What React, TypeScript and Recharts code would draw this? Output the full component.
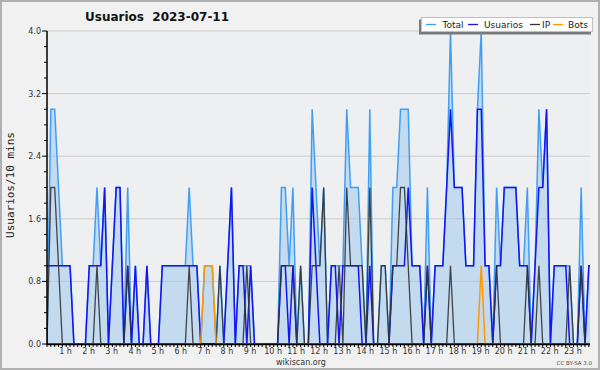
import React from 'react';
import { ComposedChart, Area, Line, XAxis, YAxis, CartesianGrid } from 'recharts';

// 10-minute slots of the day (index 0 = 00:00)
const slots: number[] = Array.from({ length: 144 }, (_, i) => i);

const total: number[] = [
  0, 3, 3, 2, 1, 1, 1, 0, 0, 0,
  0, 1, 1, 2, 1, 2, 0, 1, 2, 2,
  0, 2, 0, 1, 0, 0, 1, 0, 0, 0,
  1, 1, 1, 1, 1, 1, 1, 2, 1, 1,
  0, 1, 1, 1, 0, 1, 0, 1, 2, 0,
  1, 1, 1, 1, 0, 0, 0, 0, 0, 0,
  0, 2, 2, 1, 2, 0, 1, 0, 0, 3,
  2, 1, 2, 0, 1, 1, 1, 1, 3, 2,
  2, 2, 1, 0, 3, 0, 0, 1, 1, 0,
  2, 2, 3, 3, 3, 1, 1, 1, 0, 2,
  0, 1, 1, 1, 2, 4, 2, 2, 2, 1,
  1, 1, 3, 4, 1, 1, 0, 2, 1, 2,
  2, 2, 2, 1, 1, 2, 0, 1, 3, 2,
  3, 0, 1, 1, 1, 1, 1, 0, 0, 2,
  0, 1, 1, 1,
];

const usuarios: number[] = [
  1, 1, 1, 1, 1, 1, 1, 0, 0, 0,
  0, 1, 1, 1, 1, 2, 0, 1, 2, 2,
  0, 1, 0, 1, 0, 0, 1, 0, 0, 0,
  1, 1, 1, 1, 1, 1, 1, 1, 1, 1,
  0, 0, 0, 0, 0, 0, 0, 1, 2, 0,
  1, 1, 0, 1, 0, 0, 0, 0, 0, 0,
  0, 1, 1, 0, 1, 0, 0, 0, 0, 2,
  1, 0, 0, 0, 1, 1, 0, 1, 1, 1,
  1, 1, 0, 0, 1, 0, 0, 0, 0, 0,
  1, 1, 1, 1, 2, 1, 1, 1, 0, 1,
  0, 1, 1, 1, 2, 3, 2, 2, 2, 1,
  1, 1, 3, 3, 1, 1, 0, 1, 1, 2,
  2, 2, 2, 1, 1, 1, 0, 1, 2, 2,
  3, 0, 1, 1, 1, 1, 0, 0, 0, 1,
  0, 1, 1, 1,
];

const ip: number[] = [
  0, 2, 2, 1, 0, 0, 0, 0, 0, 0,
  0, 0, 0, 1, 0, 0, 0, 0, 0, 0,
  0, 1, 0, 0, 0, 0, 0, 0, 0, 0,
  0, 0, 0, 0, 0, 0, 0, 1, 0, 0,
  0, 0, 0, 0, 0, 1, 0, 0, 0, 0,
  0, 0, 1, 0, 0, 0, 0, 0, 0, 0,
  0, 1, 1, 1, 1, 0, 1, 0, 0, 1,
  1, 1, 2, 0, 0, 0, 1, 0, 2, 1,
  1, 1, 1, 0, 2, 0, 0, 1, 1, 0,
  1, 1, 2, 2, 1, 0, 0, 0, 0, 1,
  0, 0, 0, 0, 0, 1, 0, 0, 0, 0,
  0, 0, 0, 0, 0, 0, 0, 1, 0, 0,
  0, 0, 0, 0, 0, 1, 0, 0, 1, 0,
  0, 0, 0, 0, 0, 0, 1, 0, 0, 1,
  0, 0, 0, 0,
];

const bots: number[] = [
  0, 0, 0, 0, 0, 0, 0, 0, 0, 0,
  0, 0, 0, 0, 0, 0, 0, 0, 0, 0,
  0, 0, 0, 0, 0, 0, 0, 0, 0, 0,
  0, 0, 0, 0, 0, 0, 0, 0, 0, 0,
  0, 1, 1, 1, 0, 0, 0, 0, 0, 0,
  0, 0, 0, 0, 0, 0, 0, 0, 0, 0,
  0, 0, 0, 0, 0, 0, 0, 0, 0, 0,
  0, 0, 0, 0, 0, 0, 0, 0, 0, 0,
  0, 0, 0, 0, 0, 0, 0, 0, 0, 0,
  0, 0, 0, 0, 0, 0, 0, 0, 0, 0,
  0, 0, 0, 0, 0, 0, 0, 0, 0, 0,
  0, 0, 0, 1, 0, 0, 0, 0, 0, 0,
  0, 0, 0, 0, 0, 0, 0, 0, 0, 0,
  0, 0, 0, 0, 0, 0, 0, 0, 0, 0,
  0, 0, 0, 0,
];

const hourLabels: string[] = [
  '1 h', '2 h', '3 h', '4 h', '5 h', '6 h', '7 h', '8 h', '9 h', '10 h', '11 h', '12 h',
  '13 h', '14 h', '15 h', '16 h', '17 h', '18 h', '19 h', '20 h', '21 h', '22 h', '23 h',
];

const yMajorTicks: number[] = [0, 0.8, 1.6, 2.4, 3.2, 4.0];
const yGridValues: number[] = [0.8, 1.6, 2.4, 3.2, 4.0];

const COLORS = {
  total: '#3f9ff5',
  totalFill: '#9ac6ee',
  usuarios: '#1414f5',
  ip: '#333333',
  bots: '#ff9900',
};

const data = slots.map((s, i) => ({
  slot: s,
  total: total[i],
  usuarios: usuarios[i],
  ip: ip[i],
  bots: bots[i],
}));

const xTickValues = slots.filter((s) => s <= 141);
const yTickValues = Array.from({ length: 21 }, (_, k) => Math.round(k * 2) / 10);

const FONT = '"DejaVu Sans", Verdana, sans-serif';

const XTick = (props: any) => {
  const { x, y, payload } = props;
  const v = payload.value as number;
  const isHour = v % 6 === 0 && v > 0;
  return (
    <g>
      <line x1={x} y1={y} x2={x} y2={y + 3} stroke="#000" strokeWidth={1} />
      {isHour && (
        <text x={x - 4.5} y={y + 10} textAnchor="middle" fontSize={8} fontFamily={FONT} fill="#333">
          {hourLabels[v / 6 - 1]}
        </text>
      )}
    </g>
  );
};

const YTick = (props: any) => {
  const { x, y, payload } = props;
  const v = payload.value as number;
  const major = yMajorTicks.some((m) => Math.abs(m - v) < 1e-6);
  return (
    <g>
      <line x1={x - (major ? 5 : 3)} y1={y} x2={x} y2={y} stroke="#000" strokeWidth={1} />
      {major && (
        <text x={x - 6} y={y + 3} textAnchor="end" fontSize={8} fontFamily={FONT} fill="#333">
          {v.toFixed(1)}
        </text>
      )}
    </g>
  );
};

const legendItems = [
  { name: 'Total', color: COLORS.total, lx: 426, tx: 442.5 },
  { name: 'Usuarios', color: COLORS.usuarios, lx: 468, tx: 484 },
  { name: 'IP', color: COLORS.ip, lx: 530, tx: 542 },
  { name: 'Bots', color: COLORS.bots, lx: 553, tx: 568 },
];

export default function App() {
  return (
    <div style={{ position: 'absolute', left: 0, top: 0, width: 600, height: 370, background: '#f1f1f1' }}>
      <ComposedChart
        width={600}
        height={370}
        data={data}
        margin={{ top: 31, right: 10, bottom: 0, left: 0 }}
      >
        <CartesianGrid
          horizontal={true}
          vertical={false}
          horizontalValues={yGridValues}
          stroke="#cccccc"
          fill="#edeff1"
        />
        <XAxis
          dataKey="slot"
          type="number"
          domain={[0, 141.3]}
          allowDataOverflow
          ticks={xTickValues}
          interval={0}
          tick={<XTick />}
          tickLine={false}
          tickSize={0}
          tickMargin={0}
          height={26}
          axisLine={{ stroke: '#000', strokeWidth: 1 }}
        />
        <YAxis
          type="number"
          domain={[0, 4]}
          ticks={yTickValues}
          interval={0}
          tick={<YTick />}
          tickLine={false}
          tickSize={0}
          tickMargin={0}
          width={47}
          axisLine={{ stroke: '#000', strokeWidth: 1 }}
        />
        <Area
          type="linear"
          dataKey="total"
          stroke={COLORS.total}
          strokeWidth={1.5}
          fill={COLORS.totalFill}
          fillOpacity={0.5}
          dot={false}
          activeDot={false}
          isAnimationActive={false}
        />
        <Line type="linear" dataKey="usuarios" stroke={COLORS.usuarios} strokeWidth={1.5} dot={false} activeDot={false} isAnimationActive={false} />
        <Line type="linear" dataKey="ip" stroke={COLORS.ip} strokeWidth={1.3} strokeOpacity={0.9} dot={false} activeDot={false} isAnimationActive={false} />
        <Line type="linear" dataKey="bots" stroke={COLORS.bots} strokeWidth={1.5} dot={false} activeDot={false} isAnimationActive={false} />
      </ComposedChart>
      <svg
        width={600}
        height={370}
        style={{ position: 'absolute', left: 0, top: 0, pointerEvents: 'none' }}
      >
        <line x1={46.5} y1={344.5} x2={590} y2={344.5} stroke="#000" strokeWidth={1.5} />
        <line x1={47} y1={31} x2={47} y2={345} stroke="#000" strokeWidth={1} />
        <rect x={1} y={1} width={598} height={368} fill="none" stroke="#b0b0b0" strokeWidth={2} />
        <text x={85} y={21} fontSize={12} fontWeight="bold" fontFamily={FONT} fill="#111" style={{ whiteSpace: 'pre' }}>
          {'Usuarios  2023-07-11'}
        </text>
        <text
          x={14}
          y={185}
          transform="rotate(-90 14 185)"
          textAnchor="middle"
          fontSize={11}
          fontFamily='"DejaVu Sans Mono", monospace'
          fill="#222"
        >
          Usuarios/10 mins
        </text>
        <rect x={419} y={19.5} width={172} height={15} fill="#7a7a7a" />
        <rect x={421.5} y={17.5} width={171} height={14} fill="#ffffff" stroke="#c0c0c0" strokeWidth={1} />
        {legendItems.map((it) => (
          <g key={it.name}>
            <line x1={it.lx} y1={24.5} x2={it.lx + 10} y2={24.5} stroke={it.color} strokeWidth={1.3} />
            <text x={it.tx} y={28} fontSize={9} fontFamily={FONT} fill="#222">
              {it.name}
            </text>
          </g>
        ))}
        <text x={301} y={364.5} textAnchor="middle" fontSize={8} fontFamily={FONT} fill="#333">
          wikiscan.org
        </text>
        <text x={592} y={364.5} textAnchor="end" fontSize={5.5} fontFamily={FONT} fill="#444">
          CC BY-SA 3.0
        </text>
      </svg>
    </div>
  );
}
